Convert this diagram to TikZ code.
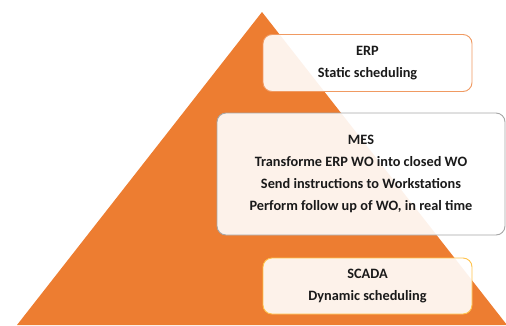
\documentclass[tikz,border=0pt]{standalone}
\usepackage{fontspec}
\setmainfont{Carlito}
\definecolor{pyramid}{HTML}{ED7D31}
\definecolor{erpline}{HTML}{F09A62}
\definecolor{mesline}{HTML}{A6A6A6}
\definecolor{scadaline}{HTML}{FFC34D}
\definecolor{inktext}{HTML}{1A1A1A}
\tikzset{
  levelbox/.style={draw, line width=0.9pt, rounded corners=9pt, fill=white, fill opacity=0.9,
    text opacity=1, text=inktext, align=center, inner sep=0pt,
    font=\fontsize{14.3}{21.8}\selectfont\bfseries}
}
\begin{document}
\begin{tikzpicture}[x=1pt,y=-1pt]
\useasboundingbox (0,0) rectangle (506,325);
\clip (0,0) rectangle (506,325);
\fill[pyramid] (262,12) -- (507,325) -- (17,325) -- cycle;
\node[levelbox, draw=erpline, minimum width=209pt, minimum height=57pt] (erp) at (367.5,63)
  {ERP\\Static scheduling};
\node[levelbox, draw=mesline, minimum width=288pt, minimum height=122pt] (mes) at (361,174)
  {MES\\Transforme ERP WO into closed WO\\Send instructions to Workstations\\Perform follow up of WO, in real time};
\node[levelbox, draw=scadaline, minimum width=209pt, minimum height=56pt] (scada) at (367.5,286)
  {SCADA\\Dynamic scheduling};
\end{tikzpicture}
\end{document}
